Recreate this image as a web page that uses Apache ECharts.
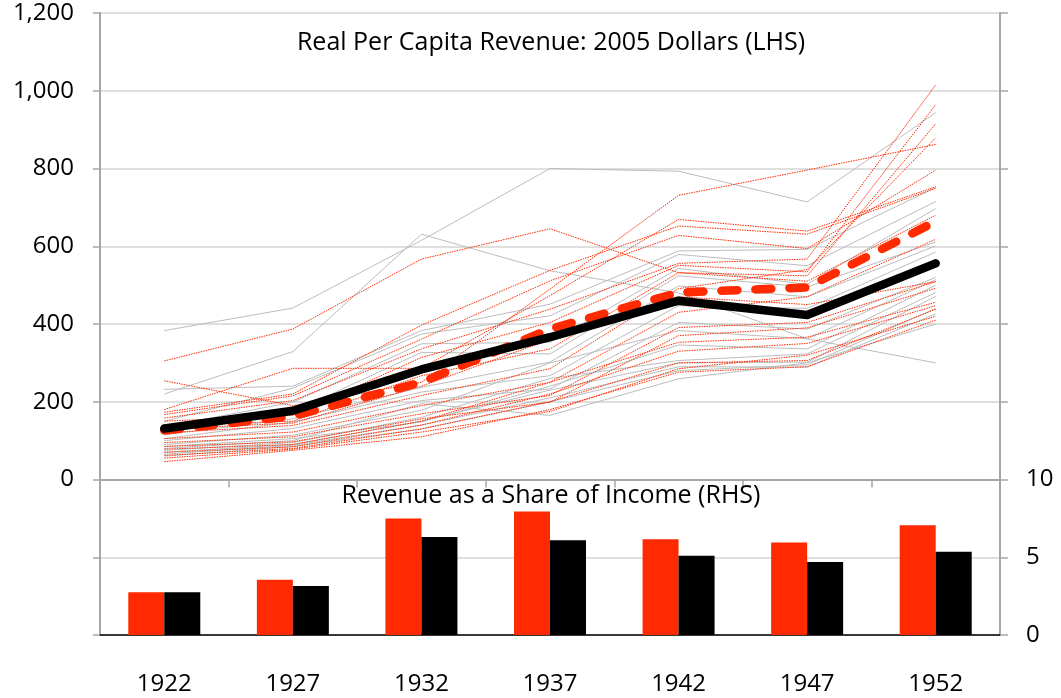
<!DOCTYPE html>
<html>
<head>
<meta charset="utf-8">
<script src="https://cdn.jsdelivr.net/npm/echarts@6/dist/echarts.min.js"></script>
<style>
html,body{margin:0;padding:0;background:#fff;}
#chart{width:1061px;height:698px;}
</style>
</head>
<body>
<div id="chart"></div>
<script>
// ---- data ----
const years = ['1922', '1927', '1932', '1937', '1942', '1947', '1952'];
const leftTicks = [0, 200, 400, 600, 800, 1000, 1200];
const rightTicks = [0, 5, 10];

// Real per capita revenue, 2005 dollars: individual states (grey group)
const greyStates = [
  [383, 441, 615, 800, 793, 714, 944],
  [220, 329, 631, 537, 480, 362, 300],
  [232, 240, 383, 451, 588, 592, 751],
  [150, 235, 374, 421, 579, 550, 715],
  [135, 199, 349, 353, 543, 502, 697],
  [125, 174, 327, 323, 524, 495, 611],
  [115, 156, 237, 302, 498, 470, 601],
  [105, 148, 225, 267, 447, 440, 585],
  [100, 131, 203, 233, 404, 387, 520],
  [90, 114, 178, 300, 383, 362, 514],
  [85, 105, 148, 240, 346, 336, 500],
  [80, 100, 195, 165, 259, 300, 400],
  [75, 95, 160, 260, 306, 323, 481],
  [70, 90, 150, 230, 300, 302, 471],
  [65, 88, 140, 210, 290, 289, 426],
  [60, 85, 130, 200, 280, 295, 440]
];
// individual states (red dotted group)
const redStates = [
  [305, 387, 567, 645, 532, 510, 680],
  [254, 190, 250, 490, 731, 796, 862],
  [180, 286, 286, 473, 669, 639, 753],
  [173, 220, 397, 538, 652, 631, 749],
  [167, 215, 361, 511, 628, 594, 796],
  [158, 203, 336, 438, 556, 567, 1015],
  [150, 165, 314, 404, 551, 534, 964],
  [140, 150, 267, 336, 532, 524, 915],
  [120, 139, 216, 285, 491, 540, 879],
  [105, 122, 190, 250, 430, 470, 618],
  [95, 110, 169, 216, 391, 404, 509],
  [85, 97, 156, 199, 370, 390, 492],
  [78, 90, 150, 250, 353, 366, 456],
  [70, 84, 140, 220, 330, 350, 447],
  [62, 80, 130, 200, 300, 306, 438],
  [55, 78, 122, 175, 285, 320, 420],
  [46, 75, 110, 180, 276, 290, 410],
  [130, 145, 240, 360, 470, 450, 509]
];
// group averages
const blackAvg = [131, 177, 283, 366, 460, 423, 556];
const redAvg = [126, 163, 250, 387, 481, 494, 664];
// revenue as a share of income (RHS)
const shareRed = [2.75, 3.55, 7.5, 7.95, 6.15, 5.95, 7.05];
const shareBlack = [2.75, 3.15, 6.3, 6.1, 5.1, 4.7, 5.35];

// ---- chart ----
const FONT = '"Open Sans"';
const RED = '#ff2a00';
const AXIS = '#a6a6a6';
const GRID = '#d4d4d4';

const series = [];
greyStates.forEach(function (d) {
  series.push({
    type: 'line', data: d, xAxisIndex: 0, yAxisIndex: 0,
    showSymbol: false, silent: true, z: 2,
    lineStyle: { color: '#bdbdbd', width: 1 }
  });
});
redStates.forEach(function (d) {
  series.push({
    type: 'line', data: d, xAxisIndex: 0, yAxisIndex: 0,
    showSymbol: false, silent: true, z: 3,
    lineStyle: { color: RED, width: 1, type: [1.5, 1] }
  });
});
series.push({
  type: 'bar', data: shareRed, xAxisIndex: 0, yAxisIndex: 1,
  barWidth: 36, barGap: '0%', z: 4, itemStyle: { color: RED }
});
series.push({
  type: 'bar', data: shareBlack, xAxisIndex: 0, yAxisIndex: 1,
  barWidth: 36, barGap: '0%', z: 4, itemStyle: { color: '#000' }
});
series.push({
  type: 'line', data: redAvg, xAxisIndex: 0, yAxisIndex: 0,
  showSymbol: false, silent: true, z: 5,
  lineStyle: { color: RED, width: 8.5, type: [16, 18], cap: 'round', join: 'round' }
});
series.push({
  type: 'line', data: blackAvg, xAxisIndex: 0, yAxisIndex: 0,
  showSymbol: false, silent: true, z: 6,
  lineStyle: { color: '#000', width: 8.5, cap: 'round', join: 'round' }
});

const chart = echarts.init(document.getElementById('chart'), null, { renderer: 'canvas' });
chart.setOption({
  animation: false,
  backgroundColor: '#fff',
  grid: { left: 100, right: 61, top: 13, bottom: 63, containLabel: false },
  xAxis: [{
    type: 'category', data: years, position: 'bottom', boundaryGap: true,
    axisLine: { show: true, lineStyle: { color: AXIS, width: 2 } },
    axisTick: { show: true, length: 8, alignWithLabel: false, lineStyle: { color: AXIS, width: 1.5 } },
    axisLabel: { color: '#000', fontFamily: FONT, fontSize: 24, margin: 37 },
    splitLine: { show: false }
  }, {
    type: 'category', data: years, position: 'top', boundaryGap: true,
    axisLine: { show: true, lineStyle: { color: '#000', width: 1.5 } },
    axisTick: { show: false }, axisLabel: { show: false }, splitLine: { show: false }
  }],
  yAxis: [{
    type: 'value', min: -400, max: 1200, interval: 200, position: 'left',
    axisLine: { show: true, lineStyle: { color: AXIS, width: 2 } },
    axisTick: { show: true, length: 7, lineStyle: { color: AXIS, width: 1.5 } },
    axisLabel: {
      color: '#000', fontFamily: FONT, fontSize: 24, margin: 26,
      formatter: function (v) { return leftTicks.indexOf(v) >= 0 ? v.toLocaleString('en-US') : ''; }
    },
    splitLine: { show: true, lineStyle: { color: GRID, width: 1.5 } }
  }, {
    type: 'value', min: 0, max: 40, interval: 5, position: 'right',
    axisLine: { show: true, lineStyle: { color: AXIS, width: 2 } },
    axisTick: { show: true, length: 8, lineStyle: { color: AXIS, width: 1.5 } },
    axisLabel: {
      color: '#000', fontFamily: FONT, fontSize: 24, margin: 26,
      formatter: function (v) { return rightTicks.indexOf(v) >= 0 ? String(v) : ''; }
    },
    splitLine: { show: false }
  }],
  graphic: [{
    type: 'text', x: 551, y: 43, z: 10,
    style: { text: 'Real Per Capita Revenue: 2005 Dollars (LHS)', fill: '#000',
      font: '25px ' + FONT, textAlign: 'center', textVerticalAlign: 'middle' }
  }, {
    type: 'text', x: 551, y: 496, z: 10,
    style: { text: 'Revenue as a Share of Income (RHS)', fill: '#000',
      font: '25px ' + FONT, textAlign: 'center', textVerticalAlign: 'middle' }
  }],
  series: series
});
</script>
</body>
</html>
